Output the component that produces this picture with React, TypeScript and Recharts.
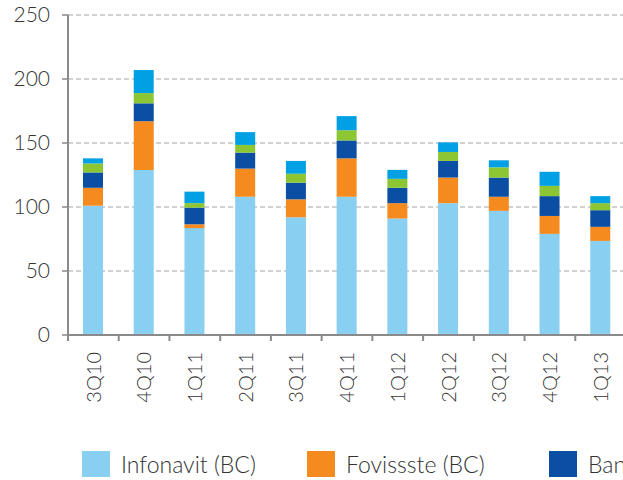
import React from 'react';
import { BarChart, Bar, XAxis, YAxis, CartesianGrid, Legend } from 'recharts';

// quarterly data
const quarters = ['3Q10', '4Q10', '1Q11', '2Q11', '3Q11', '4Q11', '1Q12', '2Q12', '3Q12', '4Q12', '1Q13'];
const infonavit = [101, 129, 83.5, 108, 92, 108, 91, 103, 97, 79, 73.5];
const fovissste = [14, 38, 3, 22, 14, 30, 12, 20, 11, 14, 11];
const banks = [12, 14, 13, 12.5, 13, 14, 12, 13, 15, 15.5, 13];
const sofoles = [7, 8, 3.5, 6, 7, 8, 7, 7, 8, 8, 5.5];
const others = [4, 18, 9, 10, 10, 11, 7, 7.5, 5.5, 11, 5.5];
const yTicks = [0, 50, 100, 150, 200, 250];

const data = quarters.map((q, i) => ({
  quarter: q,
  infonavit: infonavit[i],
  fovissste: fovissste[i],
  banks: banks[i],
  sofoles: sofoles[i],
  others: others[i],
}));

const series = [
  { key: 'infonavit', name: 'Infonavit (BC)', color: '#88CFF1' },
  { key: 'fovissste', name: 'Fovissste (BC)', color: '#F58A1F' },
  { key: 'banks', name: 'Banks', color: '#0A4FA4' },
  { key: 'sofoles', name: 'Sofoles', color: '#8CC733' },
  { key: 'others', name: 'Others', color: '#00A0E4' },
];

const FONT = 'Lato, "Open Sans", sans-serif';
const CHART_W = 626;
const AXIS_W = 68;
const BAND = (CHART_W - AXIS_W) / quarters.length;

const QuarterTick = (props: any) => {
  const { x, y, payload } = props;
  const bx = x - BAND / 2;
  return (
    <g>
      <line x1={bx} y1={y - 6} x2={bx} y2={y} stroke="#8a8a8a" strokeWidth={2} />
      <text
        x={x}
        y={y + 11}
        transform={`rotate(-90, ${x}, ${y + 11})`}
        textAnchor="end"
        dy="0.36em"
        fill="#333"
        fontSize={20}
        fontFamily={FONT}
        fontWeight={300}
      >
        {payload.value}
      </text>
    </g>
  );
};

// only the first three entries fit inside the picture, like the reference
const legendWidths = [225, 242, 200];

const LegendBox = () => (
  <div style={{ display: 'flex', height: 45, paddingTop: 13, paddingLeft: 82, boxSizing: 'border-box', whiteSpace: 'nowrap' }}>
    {series.slice(0, 3).map((s, i) => (
      <div key={s.key} style={{ display: 'flex', alignItems: 'center', width: legendWidths[i], flexShrink: 0 }}>
        <span style={{ width: 28, height: 26, background: s.color, display: 'inline-block', marginRight: 11 }} />
        <span style={{ fontFamily: FONT, fontWeight: 300, fontSize: 23, color: '#333' }}>{s.name}</span>
      </div>
    ))}
  </div>
);

export default function App() {
  return (
    <div style={{ position: 'absolute', left: 0, top: 0, width: 623, height: 480, overflow: 'hidden', background: '#fff' }}>
      <BarChart width={CHART_W} height={480} data={data} margin={{ top: 15, right: 0, left: 0, bottom: 0 }}>
        <CartesianGrid vertical={false} stroke="#c2c2c2" strokeWidth={1.5} strokeDasharray="5 3" />
        <XAxis
          dataKey="quarter"
          height={100}
          interval={0}
          tickLine={false}
          tickSize={6}
          tickMargin={0}
          axisLine={{ stroke: '#8a8a8a', strokeWidth: 2 }}
          tick={<QuarterTick />}
        />
        <YAxis
          width={AXIS_W}
          domain={[0, 250]}
          ticks={yTicks}
          interval={0}
          tickSize={6}
          tickMargin={12}
          axisLine={{ stroke: '#8a8a8a', strokeWidth: 2 }}
          tickLine={{ stroke: '#8a8a8a', strokeWidth: 1.5 }}
          tick={{ fill: '#333', fontSize: 21, fontFamily: FONT, fontWeight: 300 }}
        />
        <Legend verticalAlign="bottom" content={<LegendBox />} />
        {series.map((s) => (
          <Bar key={s.key} dataKey={s.key} name={s.name} stackId="a" fill={s.color} barSize={20} isAnimationActive={false} />
        ))}
      </BarChart>
    </div>
  );
}
